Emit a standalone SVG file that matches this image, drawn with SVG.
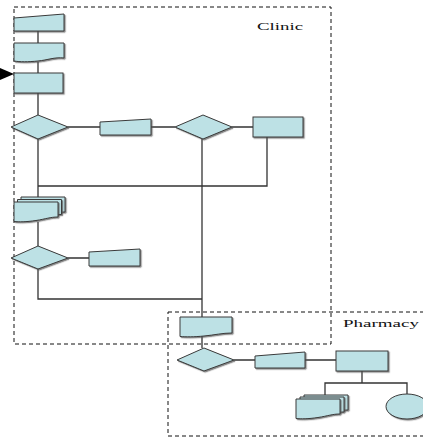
<svg xmlns="http://www.w3.org/2000/svg" width="423" height="437" viewBox="0 0 423 437">
  <style>
    .shape { fill: #bde1e5; stroke: #3a3a3a; stroke-width: 1; filter: url(#shadow); }
    .link { stroke: #333; stroke-width: 1.3; fill: none; }
    .lane { fill: none; stroke: #111; stroke-width: 1; stroke-dasharray: 4 3; }
    .label { font-family: "Liberation Serif", "Times New Roman", serif; font-size: 11px; fill: #111; }
  </style>
  <defs>
    <filter id="shadow" x="-10%" y="-10%" width="130%" height="140%">
      <feDropShadow dx="1.2" dy="1.2" stdDeviation="0.4" flood-color="#555" flood-opacity="0.7"/>
    </filter>
  </defs>
  <rect width="423" height="437" fill="#fff"/>

  <!-- swimlanes -->
  <g id="lane-clinic">
    <rect class="lane" x="14" y="7" width="317" height="337"/>
    <text class="label" x="257" y="30" textLength="46" lengthAdjust="spacingAndGlyphs">Clinic</text>
  </g>
  <g id="lane-pharmacy">
    <rect class="lane" x="168" y="312" width="262" height="124"/>
    <text class="label" x="343" y="327" textLength="76" lengthAdjust="spacingAndGlyphs">Pharmacy</text>
  </g>

  <!-- connectors -->
  <g id="connectors">
    <path class="link" d="M38,31 V43 M38,62 V73 M38,93 V115"/>
    <path class="link" d="M68,127 H100 M151,127 H175 M232,127 H253"/>
    <path class="link" d="M267,137 V186 H38"/>
    <path class="link" d="M38,139 V197"/>
    <path class="link" d="M202,139 V317"/>
    <path class="link" d="M38,222 V246 M68,258 H89"/>
    <path class="link" d="M38,269 V299 H202"/>
    <path class="link" d="M202,336 V348 M234,360 H255 M305,360 H336"/>
    <path class="link" d="M362,371 V383 M325,396 V383 H407 V394"/>
    <polygon points="0,68 14,74 0,80" fill="#000"/>
  </g>

  <!-- clinic nodes -->
  <g id="input-1"><polygon class="shape" points="14,18 64,14 64,31 14,31"/></g>
  <g id="doc-1"><path class="shape" d="M14,43 H64 V58 C54,57 48,60 38,61 C28,62 20,62 14,61 Z"/></g>
  <g id="process-1"><rect class="shape" x="14" y="73" width="49" height="20"/></g>
  <g id="decision-1"><polygon class="shape" points="11,127 38,115 68,127 38,139"/></g>
  <g id="input-2"><polygon class="shape" points="100,122 151,119 151,135 100,135"/></g>
  <g id="decision-2"><polygon class="shape" points="175,127 203,115 232,127 203,139"/></g>
  <g id="process-2"><rect class="shape" x="253" y="117" width="50" height="20"/></g>
  <g id="multidoc-1">
    <path class="shape" d="M21,197 H65 V212 C58,212 54,213 43,214 C33,215 26,215 21,214 Z"/>
    <path class="shape" d="M17.5,199.5 H61.5 V214.5 C54,214.5 50,215.5 39.5,216.5 C29,217.5 22,217.5 17.5,216.5 Z"/>
    <path class="shape" d="M14,202 H58 V217 C50,217 46,219 36,220.5 C26,222 19,222 14,221.5 Z"/>
  </g>
  <g id="decision-3"><polygon class="shape" points="11,258 38,246 68,258 38,269"/></g>
  <g id="input-3"><polygon class="shape" points="89,252 140,249 140,266 89,266"/></g>

  <!-- pharmacy nodes -->
  <g id="doc-2"><path class="shape" d="M180,317 H232 V333 C222,333 215,335 204,336 C194,337 186,337 180,336.5 Z"/></g>
  <g id="decision-4"><polygon class="shape" points="177,360 204,348 234,360 204,371"/></g>
  <g id="input-4"><polygon class="shape" points="255,356 305,352 305,368 255,368"/></g>
  <g id="process-3"><rect class="shape" x="336" y="351" width="52" height="20"/></g>
  <g id="multidoc-2">
    <path class="shape" d="M304,395 H348 V410 C341,410 337,411 326,412 C316,413 309,413 304,412 Z"/>
    <path class="shape" d="M300,397 H344 V412 C337,412 333,413 322,414 C312,415 305,415 300,414 Z"/>
    <path class="shape" d="M296,399 H340 V414 C332,414 328,416 318,417.5 C308,419 301,419 296,418.5 Z"/>
  </g>
  <g id="terminal"><ellipse class="shape" cx="407" cy="406.5" rx="21" ry="12.5"/></g>
</svg>
